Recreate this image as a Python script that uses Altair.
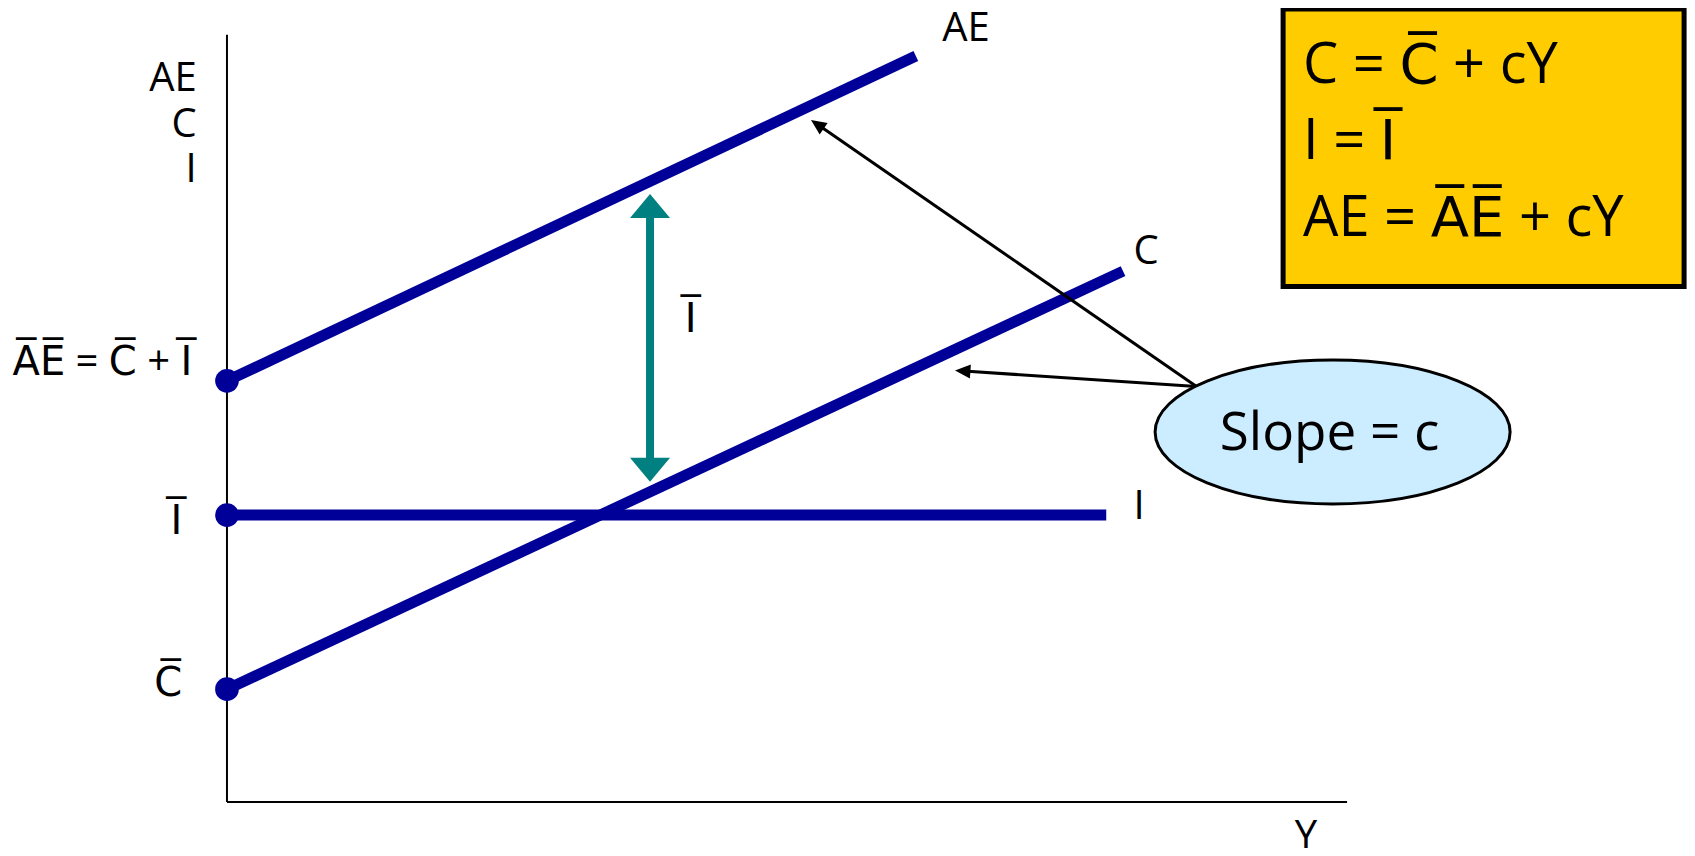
import math
import altair as alt
import pandas as pd

OV = "\u0305"


def ov(s):
    return "".join(ch + OV for ch in s)


# ---------------- data (diagram units: x = income Y, y = spending) ----------------
X_DOMAIN = [-19.55, 130.35]
Y_DOMAIN = [-6.0, 103.5]
W, H = 1679, 840

axis_x0 = [0.0, 0.0]
axis_y0 = [0.0, 0.0]
axis_x1 = [0.0, 100.0]
axis_y1 = [100.0, 0.0]

curve_names = ["AE", "C", "I"]
curve_x0 = [0.0, 0.0, 0.0]
curve_y0 = [54.9, 14.7, 37.4]
curve_x1 = [61.5, 80.0, 78.5]
curve_y1 = [97.25, 69.2, 37.4]

intercept_y = [54.9, 37.4, 14.7]

gap_x = [37.77, 37.77]
gap_tip_y = [79.26, 41.75]
gap_dir = [1, -1]

pointer_from_x = 86.56
pointer_from_y = 54.17
pointer_tip_x = [52.14, 65.0]
pointer_tip_y = [88.91, 56.25]

ellipse_x = [98.71]
ellipse_y = [48.23]
ellipse_text = ["Slope = c"]

box_x = [94.29, 130.09]
box_y = [67.2, 103.38]
box_lines = ["C = " + ov("C") + " + cY", "I = " + ov("I"), "AE = " + ov("AE") + " + cY"]
box_line_y = [96.2, 86.3, 76.2]
box_text_x = 96.07

stack_labels = ["AE", "C", "I"]
stack_y = [94.45, 88.52, 82.65]
stack_x = -2.7

intercept_labels = [ov("AE") + " = " + ov("C") + " + " + ov("I"), ov("I"), ov("C")]
intercept_label_x = [-3.1, -4.0, -4.0]
intercept_label_y = [57.42, 36.76, 15.64]

end_labels = ["AE", "C", "I", "Y", ov("I")]
end_label_x = [65.98, 82.05, 81.43, 96.34, 41.4]
end_label_y = [101.07, 71.96, 38.72, -4.3, 63.1]

BLUE = "#000099"
TEAL = "#008080"
FONT = "Open Sans, DejaVu Sans"

# --------------------------------------------------------------------------------
KX = W / (X_DOMAIN[1] - X_DOMAIN[0])
KY = H / (Y_DOMAIN[1] - Y_DOMAIN[0])

xs = alt.Scale(domain=X_DOMAIN, nice=False, zero=False)
ys = alt.Scale(domain=Y_DOMAIN, nice=False, zero=False)


def X(f):
    return alt.X(f, type="quantitative", scale=xs, axis=None)


def Y(f):
    return alt.Y(f, type="quantitative", scale=ys, axis=None)


axes = alt.Chart(pd.DataFrame({"x0": axis_x0, "y0": axis_y0, "x1": axis_x1, "y1": axis_y1})).mark_rule(
    color="black", strokeWidth=2
).encode(x=X("x0"), y=Y("y0"), x2="x1", y2="y1")

curves = alt.Chart(pd.DataFrame({"name": curve_names, "x0": curve_x0, "y0": curve_y0,
                                 "x1": curve_x1, "y1": curve_y1})).mark_rule(
    color=BLUE, strokeWidth=11, strokeCap="butt"
).encode(x=X("x0"), y=Y("y0"), x2="x1", y2="y1")

dots = alt.Chart(pd.DataFrame({"x": [0.0] * len(intercept_y), "y": intercept_y})).mark_circle(
    color=BLUE, size=560, opacity=1
).encode(x=X("x"), y=Y("y"))

# teal double arrow (gap = I bar)
HEAD_LEN = 24  # px
shaft = alt.Chart(pd.DataFrame({
    "x": [gap_x[0]], "y0": [gap_tip_y[0] - HEAD_LEN / KY + 0.3], "y1": [gap_tip_y[1] + HEAD_LEN / KY - 0.3]
})).mark_rule(color=TEAL, strokeWidth=8, strokeCap="butt").encode(x=X("x"), y=Y("y0"), y2="y1")

heads = alt.Chart(pd.DataFrame({
    "x": gap_x, "y": gap_tip_y,
    "path": ["M0,0L-1,1.2L1,1.2Z" if d > 0 else "M0,0L-1,-1.2L1,-1.2Z" for d in gap_dir],
})).mark_point(filled=True, color=TEAL, size=1600, opacity=1, strokeWidth=0).encode(
    x=X("x"), y=Y("y"), shape=alt.Shape("path:N", scale=None, legend=None)
)

# black pointer arrows
rows = []
for tx, ty in zip(pointer_tip_x, pointer_tip_y):
    dx = (tx - pointer_from_x) * KX
    dy = -(ty - pointer_from_y) * KY
    length = math.hypot(dx, dy)
    ang = math.degrees(math.atan2(dx, -dy)) % 360
    back = 9.0
    ex = tx - (dx / length) * back / KX
    ey = ty + (dy / length) * back / KY
    rows.append({"x0": pointer_from_x, "y0": pointer_from_y, "x1": ex, "y1": ey,
                 "tx": tx, "ty": ty, "angle": ang})
ptr = pd.DataFrame(rows)
pointer_lines = alt.Chart(ptr).mark_rule(color="black", strokeWidth=3).encode(
    x=X("x0"), y=Y("y0"), x2="x1", y2="y1")
pointer_heads = alt.Chart(ptr).mark_point(
    filled=True, color="black", size=196, opacity=1, strokeWidth=0, shape="M0,0L-1,2.2L1,2.2Z"
).encode(x=X("tx"), y=Y("ty"), angle=alt.Angle("angle:Q", scale=None))

# ellipse
k = 0.5523
ry = 72 / 177.5
ell_path = (f"M-1,0C-1,{-k*ry:.4f} {-k:.4f},{-ry:.4f} 0,{-ry:.4f}"
            f"C{k:.4f},{-ry:.4f} 1,{-k*ry:.4f} 1,0"
            f"C1,{k*ry:.4f} {k:.4f},{ry:.4f} 0,{ry:.4f}"
            f"C{-k:.4f},{ry:.4f} -1,{k*ry:.4f} -1,0Z")
ellipse = alt.Chart(pd.DataFrame({"x": ellipse_x, "y": ellipse_y, "t": ellipse_text})).mark_point(
    filled=True, fill="#CCECFF", stroke="black", strokeWidth=3, opacity=1, fillOpacity=1,
    strokeOpacity=1, size=355 ** 2, shape=ell_path
).encode(x=X("x"), y=Y("y"))
ellipse_label = alt.Chart(pd.DataFrame({"x": ellipse_x, "y": ellipse_y, "t": ellipse_text})).mark_text(
    font=FONT, fontSize=53, color="black", align="center", baseline="middle", dx=-3, dy=2
).encode(x=X("x"), y=Y("y"), text="t:N")

# yellow box
box = alt.Chart(pd.DataFrame({"x0": [box_x[0]], "x1": [box_x[1]], "y0": [box_y[0]], "y1": [box_y[1]]})).mark_rect(
    fill="#FFCC00", stroke="black", strokeWidth=5
).encode(x=X("x0"), x2="x1", y=Y("y0"), y2="y1")
box_text = alt.Chart(pd.DataFrame({"x": [box_text_x] * 3, "y": box_line_y, "t": box_lines})).mark_text(
    font=FONT, fontSize=56, color="black", align="left", baseline="middle", dy=2
).encode(x=X("x"), y=Y("y"), text="t:N")

# labels
stack = alt.Chart(pd.DataFrame({"x": [stack_x] * 3, "y": stack_y, "t": stack_labels})).mark_text(
    font=FONT, fontSize=40, color="black", align="right", baseline="middle", dy=2
).encode(x=X("x"), y=Y("y"), text="t:N")
inter = alt.Chart(pd.DataFrame({"x": intercept_label_x, "y": intercept_label_y, "t": intercept_labels})).mark_text(
    font=FONT, fontSize=40, color="black", align="right", baseline="middle", dy=2
).encode(x=X("x"), y=Y("y"), text="t:N")
ends = alt.Chart(pd.DataFrame({"x": end_label_x, "y": end_label_y, "t": end_labels})).mark_text(
    font=FONT, fontSize=40, color="black", align="center", baseline="middle", dy=2
).encode(x=X("x"), y=Y("y"), text="t:N")

chart = alt.layer(
    axes, curves, dots, shaft, heads, pointer_lines, pointer_heads, ellipse, ellipse_label,
    box, box_text, stack, inter, ends
).properties(
    width=W, height=H, padding=0, autosize=alt.AutoSizeParams(type="none")
).configure_view(stroke=None)

chart.save("out.html", embed_options={"renderer": "svg", "actions": False})
